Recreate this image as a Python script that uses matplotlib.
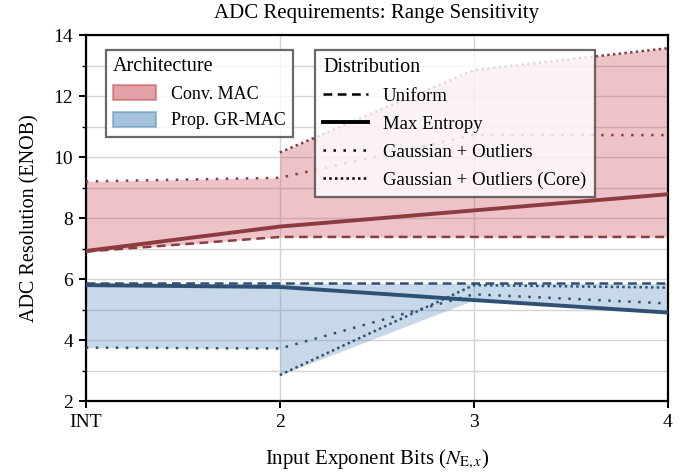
import numpy as np
import matplotlib
matplotlib.use("Agg")
import matplotlib.pyplot as plt
from matplotlib.patches import Patch
from matplotlib.lines import Line2D
from matplotlib.ticker import MultipleLocator

plt.rcParams['font.family'] = ['Liberation Serif', 'DejaVu Serif']
plt.rcParams['mathtext.fontset'] = 'stix'

categories = ["INT", "2", "3", "4"]

conv_uniform = [6.9, 7.38, 7.38, 7.38]
conv_maxent = [6.92, 7.72, 8.25, 8.78]
conv_gauss = [9.2, 9.32, 10.72, 10.72]
conv_core = [np.nan, 10.15, 12.85, 13.57]

gr_uniform = [5.86, 5.86, 5.86, 5.86]
gr_maxent = [5.8, 5.74, 5.31, 4.9]
gr_gauss = [3.75, 3.72, 5.5, 5.2]
gr_core = [np.nan, 2.85, 5.8, 5.72]

red_line = '#8C3B3F'
blue_line = '#2E5173'
red_fill = '#C74751'
blue_fill = '#5189B9'

fig = plt.figure(figsize=(6.92, 4.74), dpi=100)
ax = fig.add_axes([0.124, 0.154, 0.841, 0.772])

x = np.arange(len(categories))

DASH = (0, (3.5, 2.2))
DOT = (0, (1, 3))
DOTD = (0, (1, 1.3))

def draw(series, lc, fc):
    uni, me, ga, co = [np.array(s, dtype=float) for s in series]
    left = np.vstack([uni, me, ga])
    right = np.vstack([uni, me, ga, co])
    ax.fill_between(x[:2], left[:, :2].min(0), left[:, :2].max(0),
                    color=fc, alpha=0.32, lw=0, zorder=1)
    ax.fill_between(x[1:], np.nanmin(right[:, 1:], 0), np.nanmax(right[:, 1:], 0),
                    color=fc, alpha=0.32, lw=0, zorder=1)
    ax.plot(x, uni, color=lc, lw=1.8, ls=DASH, zorder=3)
    ax.plot(x, me, color=lc, lw=2.8, ls='-', zorder=3)
    ax.plot(x, ga, color=lc, lw=1.8, ls=DOT, zorder=3)
    ax.plot(x, co, color=lc, lw=1.8, ls=DOTD, zorder=3)

draw([conv_uniform, conv_maxent, conv_gauss, conv_core], red_line, red_fill)
draw([gr_uniform, gr_maxent, gr_gauss, gr_core], blue_line, blue_fill)

ax.set_xlim(0, 3)
ax.set_ylim(2, 14)
ax.set_xticks(x)
ax.set_xticklabels(categories)
ax.yaxis.set_major_locator(MultipleLocator(2))
ax.yaxis.set_minor_locator(MultipleLocator(1))
ax.grid(True, which='major', color='#d4d4d4', lw=1.0, zorder=0)
ax.grid(True, which='minor', axis='y', color='#d4d4d4', lw=1.0, zorder=0)
ax.set_axisbelow(True)
for s in ax.spines.values():
    s.set_linewidth(1.6)
    s.set_color('black')
ax.tick_params(axis='both', which='major', labelsize=14, width=1.4, length=5, direction='out', pad=4)
ax.tick_params(axis='y', which='minor', width=1.0, length=3, direction='out')

ax.set_title("ADC Requirements: Range Sensitivity", fontsize=15, pad=12)
ax.set_xlabel(r"Input Exponent Bits ($N_{\mathrm{E},x}$)", fontsize=15, labelpad=12)
ax.set_ylabel("ADC Resolution (ENOB)", fontsize=14.5, labelpad=10)

arch_handles = [
    Patch(facecolor=red_fill, edgecolor=red_fill, alpha=0.5, lw=1.5, label='Conv. MAC'),
    Patch(facecolor=blue_fill, edgecolor=blue_fill, alpha=0.5, lw=1.5, label='Prop. GR-MAC'),
]
leg1 = ax.legend(handles=arch_handles, title='Architecture', loc='upper left',
                 bbox_to_anchor=(0.034, 0.96), fontsize=13, title_fontsize=14.5,
                 fancybox=False, edgecolor='#444444', framealpha=0.8,
                 handlelength=2.4, handleheight=0.9, handletextpad=0.8,
                 borderpad=0.4, labelspacing=0.5, borderaxespad=0)
leg1._legend_box.align = 'left'
leg1.get_frame().set_linewidth(1.6)
ax.add_artist(leg1)

dist_handles = [
    Line2D([], [], color='black', lw=1.8, ls=DASH, label='Uniform'),
    Line2D([], [], color='black', lw=2.8, ls='-', label='Max Entropy'),
    Line2D([], [], color='black', lw=1.8, ls=DOT, label='Gaussian + Outliers'),
    Line2D([], [], color='black', lw=1.8, ls=DOTD, label='Gaussian + Outliers (Core)'),
]
leg2 = ax.legend(handles=dist_handles, title='Distribution', loc='upper left',
                 bbox_to_anchor=(0.393, 0.96), fontsize=13.5, title_fontsize=14.5,
                 fancybox=False, edgecolor='#444444', framealpha=0.8,
                 handlelength=2.4, handletextpad=0.8, borderpad=0.45,
                 labelspacing=0.57, borderaxespad=0)
leg2._legend_box.align = 'left'
leg2.get_frame().set_linewidth(1.6)

fig.savefig('out.png', dpi=100)
